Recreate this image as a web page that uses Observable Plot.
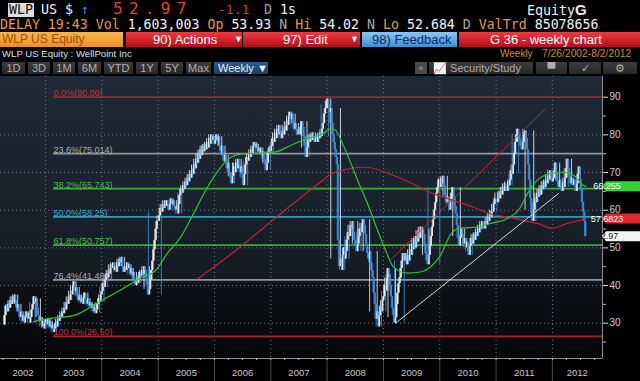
<!DOCTYPE html>
<html><head><meta charset="utf-8">
<script src="https://cdn.jsdelivr.net/npm/d3@7"></script>
<script src="https://cdn.jsdelivr.net/npm/@observablehq/plot@0.6"></script>
<style>
html,body{margin:0;padding:0;background:#000;}
body{width:640px;height:381px;overflow:hidden;position:relative;font-family:"DejaVu Sans Mono",monospace;}
.a{position:absolute;white-space:pre;}
.s{font-family:"Liberation Sans",Arial,sans-serif;}
.btn{position:absolute;top:62px;height:12px;background:linear-gradient(#3c3c3c,#262626);color:#b0b0b0;font:11px "Liberation Sans",sans-serif;line-height:12px;text-align:center;}
.red{position:absolute;top:32px;height:15px;background:linear-gradient(#ec3a42,#b40e18);color:#fff;font:13px "Liberation Sans",sans-serif;line-height:15px;}
.o{color:#e59a48}.w{color:#f2f2f2}.g{color:#a8a8a8}
</style></head><body>
<!-- row 1 -->
<div class="a" style="left:8px;top:3px;width:26px;height:14px;background:#dedede;"></div>
<span class="a" style="left:9px;top:3px;font-size:13.3px;line-height:14px;color:#111">WLP</span>
<span class="a" style="left:41px;top:3px;font-size:13.3px;line-height:14px;color:#f0f0f0">US $</span>
<span class="a" style="left:81px;top:3px;font-size:13.3px;line-height:14px;color:#3b8de0">↑</span>
<span class="a" style="left:113px;top:1px;font-size:16px;line-height:16px;letter-spacing:6.3px;color:#ee3a44">52.97</span>
<span class="a" style="left:218px;top:3px;font-size:13px;line-height:14px;color:#d8343c">-1.1</span>
<span class="a" style="left:264px;top:3px;font-size:13.3px;line-height:14px;color:#9a9a9a">D</span>
<span class="a" style="left:280px;top:3px;font-size:13.3px;line-height:14px;color:#f0f0f0">1s</span>
<span class="a" style="left:527px;top:3px;font-size:13.3px;line-height:14px;color:#f0f0f0">Equity<b style="font-family:'Liberation Sans',sans-serif;font-size:15px">G</b></span>
<!-- row 2 -->
<span class="a" style="left:0;top:18px;font-size:13.25px;line-height:13px"><span class="o">DELAY 19:43 Vol</span> <span class="w">1,603,003</span> <span class="o">Op</span> <span class="w">53.93</span> <span class="g">N</span> <span class="o">Hi</span> <span class="w">54.02</span> <span class="g">N</span> <span class="o">Lo</span> <span class="w">52.684</span> <span class="g">D</span> <span class="o">ValTrd</span> <span class="w">85078656</span></span>
<!-- row 3 -->
<div class="a" style="left:0;top:32px;width:123px;height:15px;background:linear-gradient(#f9b550,#e9921f);"></div>
<span class="a s" style="left:2px;top:32px;font-size:12px;line-height:15px;color:#9a5206">WLP US Equity</span>
<div class="red" style="left:126px;width:116px;"><span class="a" style="left:27px">90) Actions</span><span class="a" style="left:108px;font-size:9px">▼</span></div>
<div class="red" style="left:243px;width:117px;"><span class="a" style="left:40px">97) Edit</span><span class="a" style="left:107px;font-size:9px">▼</span></div>
<div class="a" style="left:362px;top:32px;width:95px;height:15px;background:linear-gradient(#86c8f4,#3f8fd6);"></div>
<span class="a s" style="left:372px;top:32px;font-size:13px;line-height:15px;color:#0d2c60">98) Feedback</span>
<div class="red" style="left:459px;width:181px;"><span class="a" style="left:31px">G 36 - weekly chart</span></div>
<!-- row 4 -->
<span class="a s" style="left:2px;top:48px;font-size:9.6px;line-height:12px;color:#cfe6ee">WLP US Equity : WellPoint Inc</span>
<span class="a s" style="left:500px;top:48px;font-size:10px;line-height:12px;color:#c98a40">Weekly</span>
<span class="a s" style="left:542px;top:48px;font-size:10.3px;line-height:12px;color:#c98a40">7/26/2002-8/2/2012</span>
<!-- row 5 toolbar -->
<div class="btn" style="left:2px;width:23px">1D</div>
<div class="btn" style="left:28px;width:22px">3D</div>
<div class="btn" style="left:53px;width:22px">1M</div>
<div class="btn" style="left:78px;width:23px">6M</div>
<div class="btn" style="left:104px;width:29px">YTD</div>
<div class="btn" style="left:136px;width:22px">1Y</div>
<div class="btn" style="left:161px;width:22px">5Y</div>
<div class="btn" style="left:186px;width:25px">Max</div>
<div class="btn" style="left:214px;background:linear-gradient(#2a5a8c,#1a3e66);color:#f0f0f0;text-align:left;padding-left:4px;width:50px">Weekly ▼</div>
<div class="btn" style="left:415px;width:12px;background:#4a4a4a;font-size:9px">«</div>
<div class="btn" style="left:429px;text-align:left;padding-left:4px;width:100px">📈 Security/Study</div>
<div class="btn" style="left:536px;width:31px">▀</div>
<div class="btn" style="left:569px;width:32px">✓</div>
<div class="btn" style="left:603px;width:34px">⚙</div>
<div id="chart" style="position:absolute;left:0;top:76px;"></div>
<script>
// ---------- data (weekly closes) ----------
const weekStart = ["2002-04-05","2003-01-03","2004-01-02","2005-01-07","2006-01-06","2007-01-05","2008-01-04","2009-01-02","2010-01-01","2011-01-07","2012-01-06"];
const close2002 = [29.5,32,34.5,33,35,34,36,35,37,35.5,37.5,36,34,35,33,31.5,33,30.5,32,30,31.5,33,31,32.5,30,31.5,33.5,35,37,35.5,36.5,34,32,30.5,31.5,29,30.5,28.5,30];
const close2003 = [31,29.5,31,29,30.5,28.5,29.5,27.5,28.5,30,29,31,30.5,32,31.5,33,32.5,34,33.5,35.5,35,37,36,38.5,37.5,40,41,38.5,39.5,37,36,37.5,35.5,36.5,35,37,38,36,35,36.5,34.5,35.5,34,35,33,34,32.5,33.5,35,36.5,35.5,37.5];
const close2004 = [38.5,40.5,39.5,41.5,43,42,44,43,45.5,44.5,46,44,45,43.5,46,45,47,46,47.5,45,43.5,45,44,46,44.5,45.5,43,44.5,42.5,43.5,41.5,40,41.5,40.5,42,43.5,42.5,44,43,45,44,42,40,37.5,39,41.5,44,46.5,49.5,52,55,57];
const close2005 = [58.5,60.5,59.5,61.5,60.5,62.5,61,62.5,61.5,60,61.5,63,61.5,62.5,61,60,61,59,61.5,64,65.5,64.5,66.5,65.5,67.5,66.5,68.5,67.5,69.5,68.5,70.5,69.5,72,71,73.5,72.5,75,73.5,76,74.5,77,75.5,77.5,76,78,76.5,79,77.5,80,78.5,79.5,77.5];
const close2006 = [78.5,80,78,79.5,77,75.5,77,74.5,73,74.5,72.5,71,72.5,70,68.5,67,69,71.5,70,72.5,71,73.5,72,70,71.5,68.5,66.5,69.5,72,74,73,75,74,76,75,77,78,76.5,77.5,75.5,76.5,75,76.5,74.5,75.5,73.5,72,70.5,72.5,75,76.5,75.5];
const close2007 = [77,79,78,80.5,79,81.5,80,82.5,80.5,79,81,80,82,81,83.5,82.5,85,86,84,85.5,83,81.5,83,81,80,81.5,80,82,83.5,82,79.5,77,74,76.5,79,78,80,78.5,80.5,79,78,79.5,78,80,79,80.5,79.5,81.5,83,85.5,87,89];
const close2008 = [89.5,88,86,87,83,80,78,76,74,72,52,45,47,44,48,50,47,49,52,54,53,56,55,57,54,52,50.5,49,51,53,55,54,56.5,57.5,56,53.5,51,48.5,47,49,46,44,42,38,35,31,33,29,32,34.5,33,36];
const close2009 = [37,40,38.5,42,44.5,43,40,37,34,32,30,31.5,35,38,40.5,42,44.5,46.5,48.5,46.5,48.5,45.5,48,46.5,49.5,48,51,49.5,52.5,50,53,51.5,54.5,52.5,55.5,54,55,53.5,51,48.5,46.5,45.5,48,50.5,53,55.5,57.5,60,62,64.5,66,68];
const close2010 = [66,68.5,67,69,66.5,64,62,63.5,61.5,60,62.5,64.5,66,63.5,61,59,56,52.5,50.5,53,55,53.5,51,52.5,50,51.5,49,48,50.5,52.5,51,53.5,52,54,53,55,54,56,55,57,56,55,57,56,58,57,59,58,60,59.5,61.5,63];
const close2011 = [62,64.5,63,65,64,66,65,67,66,65,67.5,66.5,68,70.5,69.5,72,75,78,80,81.5,80,78.5,77,76,78,80,81,79,76,72,68,63,59,57,60,63,62,64.5,63.5,65.5,64,66.5,65.5,67.5,66,68,67,69.5,68,70.5,69,67.5];
const close2012 = [68.5,70.5,72.5,70,67.5,66,68,66.5,65,67.5,66,68.5,71,73.5,71,69,67,68.5,66.5,68,66.5,65,67,69.5,71.5,68,65.5,62,59.5,57,52.97];

// moving averages: [decimal year, value]
const greenMA = [[2002.787,30.4],[2003.0,31.1],[2003.497,32.0],[2003.923,35.4],[2004.331,38.8],[2004.686,42.0],[2004.953,44.0],[2005.166,48.6],[2005.397,52.8],[2005.627,59.1],[2005.876,66.1],[2005.982,68.7],[2006.284,74.0],[2006.515,75.0],[2006.870,75.2],[2007.119,75.6],[2007.349,77.2],[2007.651,79.0],[2007.935,80.4],[2008.059,81.7],[2008.148,81.3],[2008.272,77.7],[2008.415,72.7],[2008.539,68.0],[2008.716,61.8],[2008.894,54.7],[2009.036,49.4],[2009.178,44.9],[2009.426,43.3],[2009.657,43.6],[2009.835,44.9],[2010.012,48.0],[2010.190,53.5],[2010.367,55.3],[2010.669,55.5],[2010.900,56.5],[2011.202,57.8],[2011.433,60.8],[2011.557,64.4],[2011.734,68.0],[2011.965,69.7],[2012.196,70.1],[2012.373,69.3],[2012.551,66.6],[2012.595,66.26]];
const redMA = [[2005.698,41.7],[2006.462,50.3],[2007.136,58.6],[2007.882,67.4],[2008.095,69.8],[2008.326,70.8],[2008.628,71.4],[2008.858,71.0],[2009.036,70.0],[2009.302,68.5],[2009.888,64.4],[2010.367,62.0],[2010.598,60.8],[2010.900,59.0],[2011.202,58.2],[2011.486,57.3],[2011.734,56.5],[2012.000,55.2],[2012.267,56.5],[2012.595,57.68]];
const redTrend = [[2009.125,46.8],[2011.876,86.9]];
const whiteTrend = [[2009.213,30.0],[2012.107,64.4]];

// Fibonacci retracement
const fibStart = 2003.142;
const fibLevels = [90, 75.014, 65.743, 58.25, 50.757, 41.486, 26.5];
const fibLabels = ["0.0%(90.00)","23.6%(75.014)","38.2%(65.743)","50.0%(58.25)","61.8%(50.757)","76.4%(41.486)","100.0%(26.50)"];
const fibColors = ["#a8222c","#8f969e","#3aac3a","#2a9ec0","#3aac3a","#8f969e","#a8222c"];
const fibTextColors = ["#c4303a","#a8aeb6","#4cc24c","#2fb0d4","#4cc24c","#a8aeb6","#c4303a"];

// axes
const yearLabels = ["2002","2003","2004","2005","2006","2007","2008","2009","2010","2011","2012"];
const yearLabelPos = [2002.6,2003.5,2004.5,2005.5,2006.5,2007.5,2008.5,2009.5,2010.5,2011.5,2012.44];
const yTicks = [30,40,50,60,70,80,90];
const yMinorTicks = [25,35,45,55,65,75,85];
const gridY = [30,40,50,60,70,80];

// right-hand value tags
const tagValues = [66.255, 57.6823, 52.97];
const tagLabels = ["66.255","57.6823","52.97"];
const tagFill = ["#36cf36","#e2262e","#f3f3f3"];
const tagText = ["#ffffff","#ffffff","#222222"];

// ---------- build ----------
const dec = y => { const Y = Math.floor(y); const s = Date.UTC(Y,0,1), e = Date.UTC(Y+1,0,1); return new Date(s + (y - Y) * (e - s)); };
const series = [close2002,close2003,close2004,close2005,close2006,close2007,close2008,close2009,close2010,close2011,close2012];
const bars = [];
let prev = null;
series.forEach((arr, k) => {
  const s = new Date(weekStart[k] + "T00:00:00Z").getTime();
  arr.forEach((c, i) => {
    bars.push({date: new Date(s + i * 7 * 864e5), open: prev == null ? c : prev, close: c});
    prev = c;
  });
});
const dirColor = d => d.close >= d.open ? "#e6e9ee" : "#3a8ee2";
const xDomain = [dec(2002.201), dec(2012.888)];
const yDomain = [20.63, 95.5];
const yearStarts = d3.range(2003, 2013).map(y => new Date(Date.UTC(y,0,1)));
const quarterTicks = d3.utcMonth.every(3).range(new Date(Date.UTC(2002,3,1)), xDomain[1]);
const labelDates = yearLabelPos.map(dec);
const labelMap = new Map(labelDates.map((d,i) => [+d, yearLabels[i]]));
const fib = fibLevels.map((v,i) => ({level:v, label:fibLabels[i], stroke:fibColors[i], fill:fibTextColors[i], start:dec(fibStart), end:xDomain[1]}));
const pts = a => a.map(([t,v]) => ({date: dec(t), v}));
const SANS = '"Liberation Sans",sans-serif';

const plot = Plot.plot({
  width: 640, height: 305, marginLeft: 0, marginRight: 38, marginTop: 0, marginBottom: 23,
  style: {background: "transparent", color: "#cfcfcf", fontFamily: SANS, fontSize: "10px", overflow: "visible"},
  x: {type: "utc", domain: xDomain},
  y: {domain: yDomain},
  color: {type: "identity"},
  marks: [
    Plot.ruleY(gridY, {stroke: "#6f7884", strokeDasharray: "1,3"}),
    Plot.ruleX(yearStarts, {stroke: "#6f7884", strokeDasharray: "1,3"}),
    Plot.ruleY(fib, {y: "level", x1: "start", x2: "end", stroke: "stroke", strokeWidth: 1.7}),
    Plot.text(fib, {x: "start", y: "level", text: "label", fill: "fill", textAnchor: "start", lineAnchor: "bottom", dy: -1, fontSize: 9}),
    Plot.ruleX(bars, Plot.map({y1: Plot.window({k: 3, reduce: "min"}), y2: Plot.window({k: 3, reduce: "max"})},
      {x: "date", y1: "close", y2: "close", stroke: dirColor, strokeWidth: 1, strokeOpacity: 0.85})),
    Plot.ruleX(bars, {x: "date", y1: "open", y2: "close", stroke: dirColor, strokeWidth: 1.6}),
    Plot.line(pts(redMA), {x: "date", y: "v", stroke: "#c8222c", strokeWidth: 1.2, curve: "monotone-x"}),
    Plot.line(pts(greenMA), {x: "date", y: "v", stroke: "#34c234", strokeWidth: 1.2, curve: "monotone-x"}),
    Plot.line(pts(redTrend), {x: "date", y: "v", stroke: "#c8242c", strokeWidth: 1}),
    Plot.line(pts(whiteTrend), {x: "date", y: "v", stroke: "#dadada", strokeWidth: 1}),
    Plot.ruleY([yDomain[0]], {stroke: "#8c8c8c"}),
    Plot.ruleX([xDomain[1]], {stroke: "#8c8c8c"}),
    Plot.axisX(yearStarts, {tickSize: 23, tickFormat: () => "", stroke: "#4a4a4a", label: null}),
    Plot.axisX(quarterTicks, {tickSize: 2, tickFormat: () => "", stroke: "#bbbbbb", label: null}),
    Plot.axisX(labelDates, {tickSize: 0, tickPadding: 11, tickFormat: d => labelMap.get(+d), fill: "#c8c8c8", fontSize: 9.5, label: null}),
    Plot.axisY(yTicks, {anchor: "right", tickSize: 5, tickPadding: 2, stroke: "#dcdcdc", fill: "#d0d0d0", fontSize: 10, label: null}),
    Plot.axisY(yMinorTicks, {anchor: "right", tickSize: 3, tickFormat: () => "", stroke: "#bbbbbb", label: null})
  ]
});
document.getElementById("chart").appendChild(plot);

// background gradient behind the plot area (sized from the scales)
const svg = d3.select(plot);
const xs = plot.scale("x"), ys = plot.scale("y");
const defs = svg.insert("defs", ":first-child");
const g = defs.append("linearGradient").attr("id", "bgGrad").attr("x1", 0).attr("y1", 0).attr("x2", 0).attr("y2", 1);
[[0,"#1f2a37"],[0.45,"#19222d"],[0.72,"#131a22"],[0.76,"#0c1015"],[1,"#07080a"]].forEach(([o,c]) => g.append("stop").attr("offset", o).attr("stop-color", c));
svg.insert("rect", "defs + *").attr("x", xs.range[0]).attr("y", ys.range[1]).attr("width", xs.range[1] - xs.range[0]).attr("height", ys.range[0] - ys.range[1]).attr("fill", "url(#bgGrad)");

// value tags on the right axis (drawn on top of everything)
const right = xs.range[1];
const tagLayer = svg.append("g");
tagValues.forEach((v, i) => {
  const py = ys.apply(v);
  tagLayer.append("polygon")
    .attr("points", [[right, py], [right + 4, py - 5], [right + 38, py - 5], [right + 38, py + 5], [right + 4, py + 5]].map(p => p.join(",")).join(" "))
    .attr("fill", tagFill[i]);
  tagLayer.append("text").attr("x", right + 5).attr("y", py + 3.3)
    .attr("fill", tagText[i]).attr("font-size", 9).attr("font-family", SANS).text(tagLabels[i]);
});
</script>
</body></html>
